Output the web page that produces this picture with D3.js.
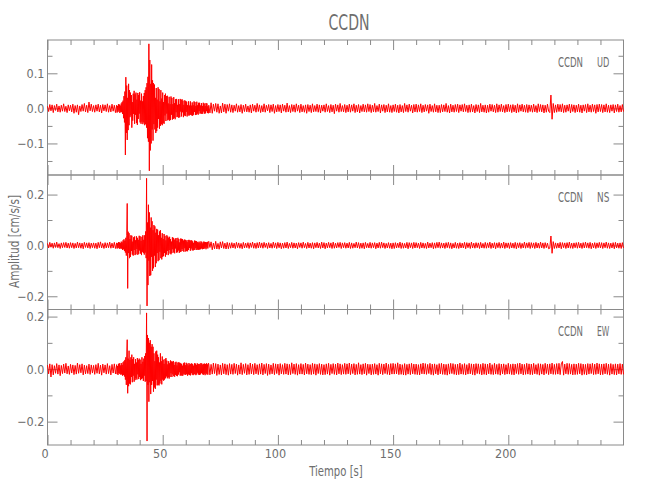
<!DOCTYPE html>
<html><head><meta charset="utf-8">
<script src="https://cdn.jsdelivr.net/npm/d3@7"></script>
<style>
body{margin:0;background:#fff}
svg{display:block}
text{font-family:"Liberation Sans Narrow","DejaVu Sans Condensed",sans-serif;fill:#6e6e6e}
</style>
</head><body>
<svg id="chart" width="650" height="500"></svg>
<script>
// ---------------- data ----------------
const title = "CCDN";
const station = "CCDN";
const components = ["UD", "NS", "EW"];
const xTitle = "Tiempo [s]";
const yTitle = "Amplitud [cm/s/s]";
const unit = 0.001;        // trace values are in thousandths of cm/s/s
// each trace is stored in three pieces: pre-event (0-30 s, every 0.5 s),
// event (30-70 s, every 0.2 s) and post-event (70-250 s, every 0.5 s)
const preStart = 0,    preDt = 0.5;
const eventStart = 30, eventDt = 0.2;
const postStart = 70,  postDt = 0.5;

const udPre = [
6,-9,11,-7,10,-12,8,-6,12,-10,7,-11,9,-8,13,-9,6,-12,10,-7,
9,-10,12,-14,8,-11,10,-18,7,-9,11,-8,14,-10,9,-12,18,-7,12,-9,
8,-11,10,-8,12,-10,9,-13,11,-7,10,-9,13,-11,8,-10,12,-8,9,-12];
const udEvent = [
9,-12,7,-10,12,-6,11,-13,8,-10,
14,-11,18,-16,22,-28,35,-40,48,-133,
89,-70,65,-90,30,-62,70,-48,52,-25,
45,-20,38,-55,18,-35,42,-16,50,-44,
40,-18,45,-42,25,-47,44,-30,38,-15,
46,-40,22,-44,42,-38,20,-45,35,-40,
44,-48,52,-45,60,-55,72,-85,90,-95,
184,-178,138,-120,70,-100,125,-60,80,-92,
72,-45,68,-60,30,-70,58,-65,25,-55,
60,-30,55,-58,20,-50,52,-45,28,-48,
45,-42,18,-44,38,-20,42,-36,35,-15,
36,-34,14,-32,33,-35,12,-33,34,-18,
30,-32,12,-30,32,-27,15,-31,26,-11,
27,-25,10,-24,26,-27,12,-25,27,-9,
24,-23,26,-11,22,-25,10,-20,23,-22,
21,-10,19,-23,9,-18,20,-21,8,-19,
20,-18,8,-20,17,-21,9,-18,20,-10,
18,-19,7,-18,19,-15,9,-18,16,-8,
16,-15,8,-14,15,-16,7,-15,16,-9,
14,-15,7,-14,15,-8,14,-13,6,-14];
const udPost = [
9,-13,16,-14,12,-8,14,-11,13,-14,7,-13,15,-10,12,-14,11,-8,13,-11,
10,-12,9,-8,13,-11,8,-10,11,-14,9,-9,12,-10,7,-11,10,-13,12,-8,
9,-11,14,-9,10,-12,8,-10,13,-11,9,-7,11,-12,10,-9,12,-14,8,-10,
11,-9,10,-13,12,-8,9,-11,15,-10,8,-12,11,-9,10,-11,13,-8,9,-12,
12,-10,8,-11,10,-14,11,-9,9,-12,13,-10,8,-9,12,-11,10,-13,9,-8,
10,-11,13,-9,8,-12,11,-10,9,-15,12,-8,10,-11,14,-9,8,-10,11,-12,
9,-10,12,-11,10,-8,13,-12,9,-10,11,-13,8,-9,12,-10,10,-11,13,-9,
11,-12,9,-10,14,-11,8,-9,12,-13,10,-8,11,-12,9,-10,13,-11,8,-12,
10,-9,12,-11,9,-13,11,-10,8,-12,14,-9,10,-11,12,-8,9,-13,11,-10,
12,-11,10,-9,13,-12,9,-10,11,-8,10,-14,12,-9,8,-11,13,-10,9,-12,
9,-12,11,-10,10,-9,14,-11,8,-13,12,-10,9,-11,11,-9,12,-12,10,-8,
11,-10,13,-9,9,-12,10,-11,12,-10,8,-13,11,-9,10,-12,14,-10,9,-11,
10,-13,9,-11,12,-8,11,-10,9,-12,13,-11,10,-9,12,-10,8,-12,11,-10,
12,-9,10,-12,11,-10,9,-13,13,-11,10,-8,12,-10,9,-11,11,-12,10,-9,
9,-11,12,-10,8,-12,13,-9,11,-10,10,-13,9,-11,12,-8,-12,38,-31,14,
-12,10,-11,12,-9,11,-10,13,-12,9,-11,10,-8,12,-13,11,-9,10,-12,9,
-10,12,-11,9,-13,10,-8,11,-12,13,-10,9,-11,12,-9,10,-14,11,-10,12,
-9,11,-12,10,-10,13,-11,9,-12,10,-8,11,-13,10,-9,12,-11,8,-10,11,
-9];

const nsPre = [
8,-10,12,-7,9,-11,10,-8,13,-9,7,-12,10,-9,11,-8,12,-10,9,-11,
11,-9,10,-12,8,-10,13,-9,10,-11,9,-13,12,-8,10,-10,11,-12,9,-9,
10,-11,9,-13,12,-9,14,-10,8,-12,11,-10,10,-9,13,-11,9,-10,12,-12];
const nsEvent = [
10,-12,8,-11,13,-9,12,-14,9,-11,
15,-13,12,-18,20,-15,24,-22,18,-28,
30,-40,38,165,-169,54,-30,48,-50,25,
-45,40,-22,38,-36,15,-40,32,-18,35,
-38,20,-35,36,-14,30,-37,22,-33,38,
-20,36,-32,18,-38,34,-25,40,-30,22,
-36,40,-28,55,-50,264,-238,90,-156,160,
-60,130,-120,70,-117,110,-45,95,-100,60,
-90,80,-40,75,-85,50,-70,65,-30,62,
-62,40,-58,55,-25,60,-50,30,-55,48,
-45,25,-42,45,-30,38,-44,20,-36,40,
-22,35,-38,30,-18,34,-32,25,-35,15,
-30,32,-15,30,-28,22,-31,27,-12,29,
-28,18,-27,30,-20,25,-29,12,-26,27,
-24,26,-14,25,-22,19,-25,23,-11,22,
-24,20,-22,13,-23,21,-18,22,-10,20,
-21,19,-12,20,-19,16,-20,10,-18,19,
-17,18,-10,17,-18,14,-16,11,-17,15,
-16,9,-15,16,-12,14,-15,8,-14,15,
-13,14,-9,13,-15,12,-8,14,-12,13];
const nsPost = [
16,-8,14,-17,9,-13,16,-14,8,-15,14,-10,15,-12,9,-14,12,-13,10,-11,
11,-10,9,-12,12,-9,10,-11,8,-13,12,-10,9,-9,11,-12,10,-8,13,-11,
9,-12,11,-10,13,-9,10,-11,12,-8,9,-12,11,-10,8,-11,13,-9,10,-12,
12,-9,10,-13,9,-11,11,-10,13,-12,8,-9,12,-11,10,-10,9,-13,11,-8,
10,-11,13,-9,8,-12,12,-10,9,-11,11,-13,10,-9,12,-10,9,-12,13,-10,
11,-13,9,-10,12,-9,10,-12,13,-11,9,-10,11,-8,12,-12,10,-9,11,-11,
9,-10,12,-12,10,-11,8,-9,13,-10,11,-12,9,-11,10,-13,12,-9,8,-10,
12,-11,10,-9,11,-13,9,-10,12,-11,13,-9,10,-12,8,-10,11,-11,9,-13,
10,-12,11,-10,9,-9,13,-12,10,-11,8,-10,12,-13,11,-9,10,-12,12,-10,
11,-9,9,-12,12,-10,10,-11,8,-12,13,-10,9,-9,11,-13,10,-11,12,-9,
13,-11,10,-10,9,-12,11,-9,12,-11,10,-13,8,-10,12,-11,9,-12,11,-10,
9,-10,12,-13,11,-9,10,-12,13,-10,9,-11,11,-9,10,-12,12,-10,8,-11,
12,-11,10,-9,13,-12,9,-10,11,-13,10,-9,12,-11,9,-10,13,-12,10,-9,
10,-12,11,-10,9,-11,12,-13,10,-9,11,-12,8,-10,13,-11,10,-9,12,-12,
11,-9,10,-12,12,-10,9,-11,13,-10,10,-12,11,-9,9,-13,-11,37,-31,15,
-12,10,-11,9,-10,12,-13,11,-9,10,-12,11,-10,13,-11,9,-12,10,-9,11,
-11,12,-10,9,-12,11,-10,13,-9,10,-11,12,-13,9,-10,11,-12,10,-9,12,
-10,11,-12,10,-9,13,-11,10,-12,9,-10,11,-13,12,-10,9,-11,10,-12,11,
-10];

const ewPre = [
15,-18,20,-30,17,-22,13,-16,21,-19,16,-25,14,-17,19,-15,22,-18,12,-20,
18,-15,16,-21,14,-19,23,-16,17,-14,20,-22,15,-18,13,-17,19,-20,16,-15,
14,-20,17,-16,22,-18,15,-23,19,-14,16,-19,21,-17,13,-22,18,-15,20,-18];
const ewEvent = [
17,-19,12,-22,20,-15,22,-18,14,-21,
23,-20,16,-25,26,-22,30,-28,35,-40,
45,-60,50,112,-92,40,-65,70,-55,35,
-58,45,-30,55,-50,38,-25,45,-48,20,
-42,38,-35,25,-40,42,-20,35,-38,40,
-30,36,-42,20,-38,45,-35,28,-45,40,
-25,50,-48,60,-45,214,-274,130,-60,118,
-124,100,-50,110,-95,85,-60,95,-45,85,
-86,60,-70,30,-75,67,-40,70,-62,55,
-60,45,-62,25,-55,60,-44,30,-58,48,
-40,36,-44,20,-40,38,-35,42,-28,32,
-35,18,-31,30,-36,22,-30,33,-16,29,
-30,28,-20,31,-27,16,-29,26,-22,28,
-25,14,-27,25,-21,26,-12,24,-25,22,
-23,20,-26,13,-24,22,-18,25,-21,15,
-22,24,-19,21,-25,14,-20,23,-22,18,
-24,20,-15,22,-21,19,-23,13,-20,22,
-19,21,-23,16,-20,22,-14,19,-21,20,
-22,18,-20,23,-15,21,-19,17,-22,20,
-18,21,-23,19,-16,22,-20,18,-21,23];
const ewPost = [
20,-22,18,-19,23,-17,21,-24,19,-20,16,-22,22,-18,20,-21,17,-23,21,-19,
18,-20,22,-17,19,-23,16,-19,24,-21,18,-16,21,-22,17,-20,23,-18,19,-21,
22,-18,17,-21,20,-19,23,-22,18,-17,21,-24,19,-20,16,-18,22,-21,20,-17,
19,-23,21,-18,17,-20,22,-19,20,-22,18,-21,24,-17,19,-20,21,-23,17,-19,
21,-19,18,-22,23,-18,19,-20,17,-21,22,-19,20,-23,18,-17,21,-20,19,-22,
17,-21,20,-19,22,-23,18,-17,21,-20,19,-22,23,-18,20,-21,17,-19,22,-20,
20,-18,23,-21,19,-17,21,-22,18,-20,24,-19,17,-21,20,-18,22,-23,19,-17,
18,-22,19,-20,21,-19,17,-23,22,-18,20,-21,19,-17,23,-20,18,-22,21,-19,
22,-19,20,-18,24,-21,19,-20,17,-22,21,-23,18,-19,20,-21,22,-18,19,-20,
19,-21,17,-22,20,-18,23,-19,21,-20,18,-17,22,-21,19,-23,20,-18,17,-22,
21,-18,22,-20,19,-21,18,-23,20,-19,22,-17,21,-20,18,-22,19,-21,23,-19,
18,-20,21,-22,17,-19,22,-18,20,-21,19,-23,21,-17,20,-19,18,-22,22,-20,
20,-22,19,-18,23,-20,17,-21,22,-19,18,-20,21,-23,19,-18,20,-21,17,-19,
22,-19,18,-21,20,-22,19,-17,21,-20,23,-18,19,-22,18,-20,22,-19,20,-21,
19,-21,22,-18,17,-20,21,-23,20,-19,18,-22,22,-17,19,-21,20,-18,23,-20,
18,-20,21,-19,22,-21,20,29,-23,19,-18,22,-20,21,-19,18,-22,20,-21,19,
-20,22,-18,21,-23,19,-20,18,-22,21,-19,20,-17,22,-21,19,-20,23,-18,20,
-22,19,-21,20,-18,22,-20,19,-23,21,-19,18,-21,20,-22,19,-18,21,-20,19,
-20];

const tracePieces = [[udPre, udEvent, udPost], [nsPre, nsEvent, nsPost], [ewPre, ewEvent, ewPost]];
const yDomains = [[-0.19, 0.195], [-0.252, 0.277], [-0.289, 0.227]];
const yMajorTicks = [[-0.1, 0, 0.1], [-0.2, 0, 0.2], [-0.2, 0, 0.2]];
const yMinorTicks = [[-0.15, -0.05, 0.05, 0.15], [-0.1, 0.1], [-0.1, 0.1]];
const xDomain = [0, 250];
const xMajorTicks = [0, 50, 100, 150, 200];
const xMinorTicks = [10,20,30,40,60,70,80,90,110,120,130,140,160,170,180,190,210,220,230,240];

// ---------------- layout ----------------
const svg = d3.select("#chart");
const left = 47.5, right = 623.5;
const panelTops = [40, 175, 309.5];
const panelBottoms = [175, 309.5, 445];
const axisColor = "#8a8a8a";
const textColor = "#6e6e6e";

const x = d3.scaleLinear().domain(xDomain).range([left, right]);

function styleAxis(g) {
  g.select(".domain").remove();
  g.selectAll("line").attr("stroke", axisColor).attr("stroke-width", 1);
  g.selectAll("text").attr("fill", textColor)
    .attr("font-family", null).attr("font-size", "12.5px");
}

function buildSeries(pieces) {
  const [pre, ev, post] = pieces;
  return pre.map((v, i) => [preStart + i * preDt, v])
    .concat(ev.map((v, i) => [eventStart + i * eventDt, v]))
    .concat(post.map((v, i) => [postStart + i * postDt, v]));
}

tracePieces.forEach((pieces, k) => {
  const top = panelTops[k], bot = panelBottoms[k];
  const y = d3.scaleLinear().domain(yDomains[k]).range([bot, top]);
  const g = svg.append("g");

  const xb = g.append("g").attr("transform", `translate(0,${bot})`)
    .call(d3.axisBottom(x).tickValues(xMajorTicks).tickSize(-10).tickFormat(k === 2 ? d3.format("d") : ""));
  const xbm = g.append("g").attr("transform", `translate(0,${bot})`)
    .call(d3.axisBottom(x).tickValues(xMinorTicks).tickSize(-5).tickFormat(""));
  const xt = g.append("g").attr("transform", `translate(0,${top})`)
    .call(d3.axisTop(x).tickValues(xMajorTicks).tickSize(-10).tickFormat(""));
  const xtm = g.append("g").attr("transform", `translate(0,${top})`)
    .call(d3.axisTop(x).tickValues(xMinorTicks).tickSize(-5).tickFormat(""));
  [xb, xbm, xt, xtm].forEach(styleAxis);
  if (k === 2) {
    xb.selectAll("text").attr("dy", null).attr("y", 13).attr("dx", -3);
  }

  const yl = g.append("g").attr("transform", `translate(${left},0)`)
    .call(d3.axisLeft(y).tickValues(yMajorTicks[k]).tickSize(-10).tickPadding(3).tickFormat(d3.format(".1f")));
  const ylm = g.append("g").attr("transform", `translate(${left},0)`)
    .call(d3.axisLeft(y).tickValues(yMinorTicks[k]).tickSize(-5).tickFormat(""));
  const yr = g.append("g").attr("transform", `translate(${right},0)`)
    .call(d3.axisRight(y).tickValues(yMajorTicks[k]).tickSize(-10).tickFormat(""));
  const yrm = g.append("g").attr("transform", `translate(${right},0)`)
    .call(d3.axisRight(y).tickValues(yMinorTicks[k]).tickSize(-5).tickFormat(""));
  [yl, ylm, yr, yrm].forEach(styleAxis);

  g.append("rect").attr("x", left).attr("y", top).attr("width", right - left).attr("height", bot - top)
    .attr("fill", "none").attr("stroke", axisColor).attr("stroke-width", 1);

  const line = d3.line().x(d => x(d[0])).y(d => y(d[1] * unit));
  g.append("path").datum(buildSeries(pieces)).attr("d", line)
    .attr("fill", "none").attr("stroke", "#ff0000").attr("stroke-width", 1);

  g.append("text").attr("x", 558).attr("y", top + 26.5).attr("font-size", "14px")
    .attr("textLength", 25).attr("lengthAdjust", "spacingAndGlyphs").text(station);
  g.append("text").attr("x", 597).attr("y", top + 26.5).attr("font-size", "14px")
    .attr("textLength", 12.3).attr("lengthAdjust", "spacingAndGlyphs").text(components[k]);
});

svg.append("text").attr("x", 349).attr("y", 30).attr("text-anchor", "middle")
  .attr("font-size", "22px").attr("textLength", 41).attr("lengthAdjust", "spacingAndGlyphs").text(title);
svg.append("text").attr("x", 336).attr("y", 476).attr("text-anchor", "middle")
  .attr("font-size", "14px").attr("textLength", 53.5).attr("lengthAdjust", "spacingAndGlyphs").text(xTitle);
svg.append("text").attr("transform", "translate(18.5,241.5) rotate(-90)").attr("text-anchor", "middle")
  .attr("font-size", "14px").attr("textLength", 93).attr("lengthAdjust", "spacingAndGlyphs").text(yTitle);
</script>
</body></html>
